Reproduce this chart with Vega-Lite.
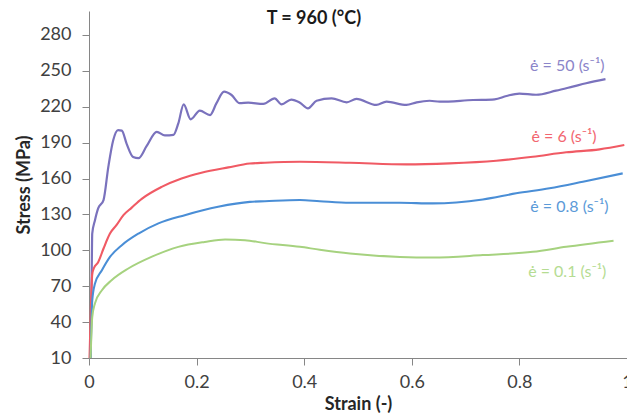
{
  "$schema": "https://vega.github.io/schema/vega-lite/v6.json",
  "width": 538,
  "height": 347,
  "autosize": "none",
  "padding": {"left": 89, "top": 11, "right": 0, "bottom": 58},
  "background": "white",
  "config": {
    "view": {"stroke": null},
    "axis": {"grid": false, "domainColor": "#868686", "tickColor": "#868686", "tickSize": 7, "labelColor": "#404040", "labelFont": "Lato", "labelFontSize": 18, "titleFont": "Lato", "titleFontSize": 18, "titleFontWeight": "bold", "titleColor": "#262626"}
  },
  "datasets": {
    "curves": [
      {"series": "50", "strain": 0.003, "stress": 10}, {"series": "50", "strain": 0.005, "stress": 80}, {"series": "50", "strain": 0.006, "stress": 114}, {"series": "50", "strain": 0.011, "stress": 125}, {"series": "50", "strain": 0.017, "stress": 135}, {"series": "50", "strain": 0.027, "stress": 142}, {"series": "50", "strain": 0.036, "stress": 170}, {"series": "50", "strain": 0.045, "stress": 192}, {"series": "50", "strain": 0.054, "stress": 200.5}, {"series": "50", "strain": 0.061, "stress": 200}, {"series": "50", "strain": 0.07, "stress": 189}, {"series": "50", "strain": 0.082, "stress": 178}, {"series": "50", "strain": 0.092, "stress": 177}, {"series": "50", "strain": 0.107, "stress": 187}, {"series": "50", "strain": 0.126, "stress": 199}, {"series": "50", "strain": 0.141, "stress": 196}, {"series": "50", "strain": 0.157, "stress": 196.5}, {"series": "50", "strain": 0.166, "stress": 206}, {"series": "50", "strain": 0.176, "stress": 222}, {"series": "50", "strain": 0.189, "stress": 209.5}, {"series": "50", "strain": 0.206, "stress": 216.7}, {"series": "50", "strain": 0.225, "stress": 213}, {"series": "50", "strain": 0.237, "stress": 223}, {"series": "50", "strain": 0.251, "stress": 232.6}, {"series": "50", "strain": 0.265, "stress": 229.8}, {"series": "50", "strain": 0.28, "stress": 223}, {"series": "50", "strain": 0.296, "stress": 223.4}, {"series": "50", "strain": 0.324, "stress": 222.3}, {"series": "50", "strain": 0.345, "stress": 227}, {"series": "50", "strain": 0.358, "stress": 222}, {"series": "50", "strain": 0.376, "stress": 226}, {"series": "50", "strain": 0.392, "stress": 223.4}, {"series": "50", "strain": 0.407, "stress": 218.7}, {"series": "50", "strain": 0.423, "stress": 225}, {"series": "50", "strain": 0.451, "stress": 227}, {"series": "50", "strain": 0.479, "stress": 223.7}, {"series": "50", "strain": 0.497, "stress": 226.5}, {"series": "50", "strain": 0.534, "stress": 221.5}, {"series": "50", "strain": 0.553, "stress": 224.2}, {"series": "50", "strain": 0.59, "stress": 221.5}, {"series": "50", "strain": 0.609, "stress": 223.7}, {"series": "50", "strain": 0.633, "stress": 225}, {"series": "50", "strain": 0.652, "stress": 224.2}, {"series": "50", "strain": 0.714, "stress": 225.6}, {"series": "50", "strain": 0.754, "stress": 226.2}, {"series": "50", "strain": 0.776, "stress": 229}, {"series": "50", "strain": 0.8, "stress": 231}, {"series": "50", "strain": 0.831, "stress": 230}, {"series": "50", "strain": 0.868, "stress": 233.4}, {"series": "50", "strain": 0.899, "stress": 236.8}, {"series": "50", "strain": 0.924, "stress": 239.6}, {"series": "50", "strain": 0.96, "stress": 243},
      {"series": "6", "strain": 0.001, "stress": 10}, {"series": "6", "strain": 0.004, "stress": 60}, {"series": "6", "strain": 0.006, "stress": 80}, {"series": "6", "strain": 0.009, "stress": 85}, {"series": "6", "strain": 0.017, "stress": 90}, {"series": "6", "strain": 0.027, "stress": 101.5}, {"series": "6", "strain": 0.039, "stress": 114}, {"series": "6", "strain": 0.051, "stress": 121}, {"series": "6", "strain": 0.064, "stress": 129.4}, {"series": "6", "strain": 0.079, "stress": 135.5}, {"series": "6", "strain": 0.098, "stress": 143}, {"series": "6", "strain": 0.135, "stress": 153}, {"series": "6", "strain": 0.172, "stress": 160}, {"series": "6", "strain": 0.209, "stress": 164.8}, {"series": "6", "strain": 0.259, "stress": 169.3}, {"series": "6", "strain": 0.299, "stress": 172.5}, {"series": "6", "strain": 0.327, "stress": 173.2}, {"series": "6", "strain": 0.392, "stress": 174}, {"series": "6", "strain": 0.485, "stress": 173.2}, {"series": "6", "strain": 0.59, "stress": 171.8}, {"series": "6", "strain": 0.67, "stress": 172.7}, {"series": "6", "strain": 0.757, "stress": 174.9}, {"series": "6", "strain": 0.825, "stress": 178.2}, {"series": "6", "strain": 0.887, "stress": 181.9}, {"series": "6", "strain": 0.949, "stress": 184.4}, {"series": "6", "strain": 0.995, "stress": 188},
      {"series": "0.8", "strain": 0.003, "stress": 10}, {"series": "0.8", "strain": 0.006, "stress": 58}, {"series": "0.8", "strain": 0.011, "stress": 72}, {"series": "0.8", "strain": 0.024, "stress": 83.4}, {"series": "0.8", "strain": 0.039, "stress": 94.5}, {"series": "0.8", "strain": 0.061, "stress": 104.3}, {"series": "0.8", "strain": 0.092, "stress": 114}, {"series": "0.8", "strain": 0.129, "stress": 122.5}, {"series": "0.8", "strain": 0.178, "stress": 129.4}, {"series": "0.8", "strain": 0.24, "stress": 136.4}, {"series": "0.8", "strain": 0.299, "stress": 140.5}, {"series": "0.8", "strain": 0.327, "stress": 141}, {"series": "0.8", "strain": 0.392, "stress": 142}, {"series": "0.8", "strain": 0.429, "stress": 141}, {"series": "0.8", "strain": 0.485, "stress": 139.7}, {"series": "0.8", "strain": 0.578, "stress": 139.7}, {"series": "0.8", "strain": 0.639, "stress": 139.2}, {"series": "0.8", "strain": 0.732, "stress": 142.5}, {"series": "0.8", "strain": 0.794, "stress": 147.6}, {"series": "0.8", "strain": 0.856, "stress": 151.8}, {"series": "0.8", "strain": 0.918, "stress": 157.3}, {"series": "0.8", "strain": 0.992, "stress": 164.3},
      {"series": "0.1", "strain": 0.003, "stress": 10}, {"series": "0.1", "strain": 0.006, "stress": 44}, {"series": "0.1", "strain": 0.011, "stress": 55.5}, {"series": "0.1", "strain": 0.024, "stress": 66.6}, {"series": "0.1", "strain": 0.042, "stress": 75}, {"series": "0.1", "strain": 0.073, "stress": 84.8}, {"series": "0.1", "strain": 0.116, "stress": 94.5}, {"series": "0.1", "strain": 0.166, "stress": 102.9}, {"series": "0.1", "strain": 0.215, "stress": 107}, {"series": "0.1", "strain": 0.253, "stress": 109}, {"series": "0.1", "strain": 0.29, "stress": 108.5}, {"series": "0.1", "strain": 0.327, "stress": 106}, {"series": "0.1", "strain": 0.392, "stress": 102.9}, {"series": "0.1", "strain": 0.429, "stress": 100.5}, {"series": "0.1", "strain": 0.485, "stress": 97.4}, {"series": "0.1", "strain": 0.578, "stress": 94.5}, {"series": "0.1", "strain": 0.639, "stress": 94}, {"series": "0.1", "strain": 0.732, "stress": 96}, {"series": "0.1", "strain": 0.825, "stress": 98.7}, {"series": "0.1", "strain": 0.887, "stress": 102.9}, {"series": "0.1", "strain": 0.975, "stress": 108}
    ],
    "labels": [
      {"series": "50", "strain": 0.889, "stress": 254, "label": "ė = 50 (s⁻¹)"},
      {"series": "6", "strain": 0.883, "stress": 194.7, "label": "ė = 6 (s⁻¹)"},
      {"series": "0.8", "strain": 0.893, "stress": 136, "label": "ė = 0.8 (s⁻¹)"},
      {"series": "0.1", "strain": 0.889, "stress": 82, "label": "ė = 0.1 (s⁻¹)"}
    ],
    "heading": [
      {"strain": 0.418, "stress": 293.5, "label": "T = 960 (°C)"}
    ]
  },
  "encoding": {
    "x": {"field": "strain", "type": "quantitative", "scale": {"domain": [0, 1], "nice": false},
      "axis": {"title": "Strain (-)", "values": [0, 0.2, 0.4, 0.6, 0.8, 1], "format": "~g", "labelFlush": false, "labelPadding": 8, "titlePadding": 4}},
    "y": {"field": "stress", "type": "quantitative", "scale": {"domain": [10, 300], "nice": false, "zero": false},
      "axis": {"title": "Stress (MPa)", "values": [10, 40, 70, 100, 130, 160, 190, 220, 250, 280], "labelPadding": 11, "titlePadding": 6}}
  },
  "layer": [
    {
      "data": {"name": "curves"},
      "mark": {"type": "line", "interpolate": "monotone"},
      "encoding": {
        "color": {"field": "series", "type": "nominal", "legend": null,
          "scale": {"domain": ["50", "6", "0.8", "0.1"], "range": ["#7a72bd", "#f05a64", "#4a8ed6", "#a6d27f"]}},
        "strokeWidth": {"field": "series", "type": "nominal", "legend": null,
          "scale": {"domain": ["50", "6", "0.8", "0.1"], "range": [2.2, 2, 2.5, 3]}}
      }
    },
    {
      "data": {"name": "labels"},
      "mark": {"type": "text", "font": "Lato", "fontSize": 16, "align": "center", "baseline": "middle"},
      "encoding": {
        "text": {"field": "label"},
        "color": {"field": "series", "type": "nominal", "legend": null,
          "scale": {"domain": ["50", "6", "0.8", "0.1"], "range": ["#8b85c9", "#f26670", "#5b9ad8", "#b5dc92"]}}
      }
    },
    {
      "data": {"name": "heading"},
      "mark": {"type": "text", "font": "Lato", "fontSize": 18, "fontWeight": "bold", "align": "center", "baseline": "middle", "color": "#1a1a1a"},
      "encoding": {"text": {"field": "label"}}
    }
  ],
  "resolve": {"scale": {"color": "independent"}}
}
